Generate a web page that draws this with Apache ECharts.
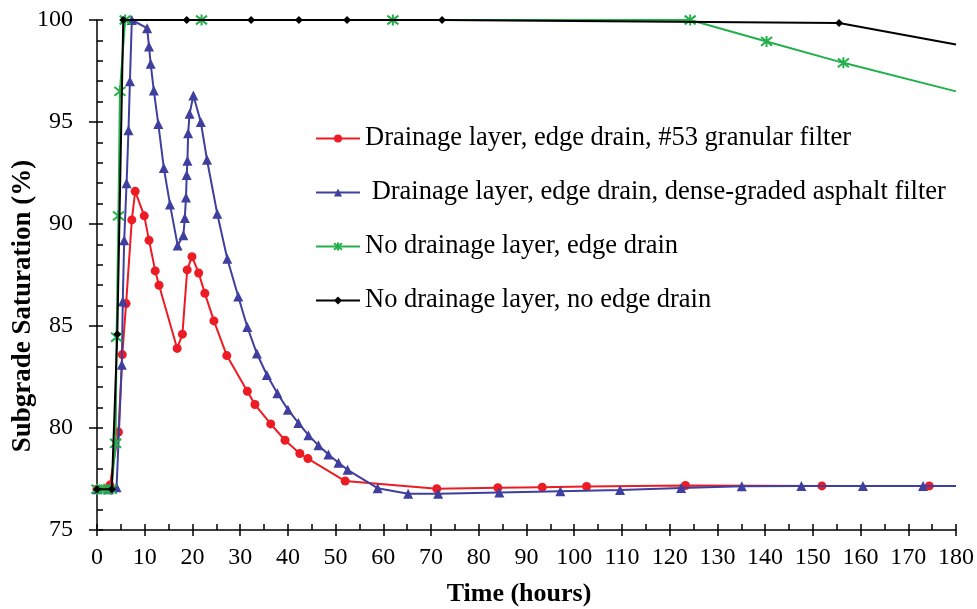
<!DOCTYPE html>
<html>
<head>
<meta charset="utf-8">
<script src="https://cdn.jsdelivr.net/npm/echarts@6/dist/echarts.min.js"></script>
<style>html,body{margin:0;padding:0;background:#fff}#c{width:977px;height:609px}</style>
</head>
<body>
<div id="c"></div>
<script>
// ---- data ----
const seriesNames = [
  'Drainage layer, edge drain, #53 granular filter',
  ' Drainage layer, edge drain, dense-graded asphalt filter',
  'No drainage layer, edge drain',
  'No drainage layer, no edge drain'
];
const redHours = [0, 2.7, 4.5, 5.3, 6.1, 7.3, 8.0, 9.9, 10.9, 12.2, 13.0, 16.8, 17.9, 18.9, 19.9, 21.3, 22.6, 24.5, 27.2, 31.5, 33.1, 36.4, 39.4, 42.5, 44.2, 52.0, 71.2, 84.0, 93.3, 102.6, 123.3, 151.9, 174.4];
const redSat   = [77.0, 77.2, 79.8, 83.6, 86.1, 90.2, 91.6, 90.4, 89.2, 87.7, 87.0, 83.9, 84.6, 87.75, 88.4, 87.6, 86.6, 85.25, 83.55, 81.8, 81.15, 80.2, 79.4, 78.75, 78.5, 77.4, 77.02, 77.07, 77.1, 77.13, 77.18, 77.16, 77.16];

const blueHours = [0, 2.5, 4.1, 5.2, 5.4, 5.7, 6.2, 6.6, 6.9, 7.3, 10.5, 10.9, 11.25, 11.9, 12.85, 14.0, 15.3, 16.9, 18.1, 18.4, 18.65, 18.8, 18.95, 19.1, 19.4, 20.2, 21.75, 23.05, 25.2, 27.3, 29.6, 31.5, 33.5, 35.6, 37.8, 40.0, 42.2, 44.3, 46.4, 48.5, 50.6, 52.5, 58.8, 65.2, 71.5, 84.3, 97.1, 109.6, 122.4, 135.1, 147.6, 160.5, 173.1, 180];
const blueSat   = [77.0, 77.0, 77.1, 83.1, 86.2, 89.2, 92.0, 94.6, 97.0, 100, 99.6, 98.7, 97.85, 96.55, 94.9, 92.75, 90.95, 88.95, 89.45, 90.3, 91.3, 92.4, 93.1, 94.45, 95.4, 96.3, 95.0, 93.15, 90.5, 88.3, 86.45, 84.95, 83.65, 82.6, 81.7, 80.9, 80.25, 79.65, 79.15, 78.7, 78.3, 77.95, 77.05, 76.78, 76.78, 76.84, 76.9, 76.96, 77.06, 77.15, 77.16, 77.16, 77.16, 77.16];

const greenHours = [0, 1.5, 3.0, 3.9, 4.1, 4.5, 4.8, 5.9, 21.9, 62.0, 124.3, 140.3, 156.4, 180];
const greenSat   = [77.0, 77.0, 77.0, 79.25, 84.45, 90.4, 96.5, 100, 100, 100, 100, 98.95, 97.9, 96.5];

const blackHours = [0, 3.1, 4.25, 5.5, 18.8, 32.3, 42.3, 52.4, 72.3, 155.5, 180];
const blackSat   = [77.0, 77.0, 84.6, 100, 100, 100, 100, 100, 100, 99.85, 98.8];

// series whose last point is only a line end (no marker)
const lineEndOnly = [false, true, true, true];

const xTicks = {min: 0, max: 180, major: 10, minor: 5};
const yTicks = {min: 75, max: 100, major: 5, minor: 1};

// ---- build ----
function pairs(h, v, noLastMarker) {
  return h.map((x, i) => {
    const item = {value: [x, v[i]]};
    if (noLastMarker && i === h.length - 1) item.symbol = 'none';
    return item;
  });
}
const FONT = '"Liberation Serif", "Times New Roman", serif';
const starPath = 'path://M0,-10L0,10M-8,-8L8,8M-8,8L8,-8';

const chart = echarts.init(document.getElementById('c'), null, {renderer: 'canvas'});
const axisLineStyle = {color: '#000', width: 1.5};
chart.setOption({
  animation: false,
  backgroundColor: '#fff',
  grid: {left: 97, right: 21, top: 20, bottom: 79, containLabel: false},
  xAxis: [
    {type: 'value', min: xTicks.min, max: xTicks.max, interval: xTicks.major,
     axisLine: {lineStyle: axisLineStyle},
     axisTick: {inside: false, length: 6, lineStyle: {color: '#000', width: 1.5}},
     axisLabel: {fontFamily: FONT, fontSize: 24, color: '#000', margin: 16},
     splitLine: {show: false}},
    {type: 'value', min: xTicks.min, max: xTicks.max, interval: xTicks.minor, position: 'bottom',
     axisLine: {show: false},
     axisTick: {inside: true, length: 6, lineStyle: {color: '#000', width: 1.5}},
     axisLabel: {show: false}, splitLine: {show: false}}
  ],
  yAxis: [
    {type: 'value', min: yTicks.min, max: yTicks.max, interval: yTicks.major,
     axisLine: {show: true, lineStyle: axisLineStyle},
     axisTick: {show: true, inside: false, length: 8, lineStyle: {color: '#000', width: 1.5}},
     axisLabel: {fontFamily: FONT, fontSize: 24, color: '#000', margin: 24},
     splitLine: {show: false}},
    {type: 'value', min: yTicks.min, max: yTicks.max, interval: yTicks.minor, position: 'left',
     axisLine: {show: false},
     axisTick: {show: true, inside: true, length: 6, lineStyle: {color: '#000', width: 1.5}},
     axisLabel: {show: false}, splitLine: {show: false}}
  ],
  legend: {
    orient: 'vertical', left: 310, top: 120,
    itemWidth: 44, itemHeight: 10, itemGap: 27,
    textStyle: {fontFamily: FONT, fontSize: 26.5, color: '#000', lineHeight: 26},
    data: seriesNames
  },
  graphic: [
    {type: 'text', style: {text: 'Time (hours)', font: 'bold 26px ' + FONT, fill: '#000', textAlign: 'center', textVerticalAlign: 'middle'}, position: [519, 594]},
    {type: 'text', style: {text: 'Subgrade Saturation (%)', font: 'bold 27px ' + FONT, fill: '#000', textAlign: 'center', textVerticalAlign: 'middle'}, position: [23, 306], rotation: Math.PI / 2}
  ],
  series: [
    {name: seriesNames[0], type: 'line', data: pairs(redHours, redSat, lineEndOnly[0]),
     symbol: 'circle', symbolSize: 9, color: '#ed1c24',
     lineStyle: {width: 2, color: '#ed1c24'}, itemStyle: {color: '#ed1c24'}, z: 2},
    {name: seriesNames[1], type: 'line', data: pairs(blueHours, blueSat, lineEndOnly[1]),
     symbol: 'triangle', symbolSize: 10, color: '#3f3f9f',
     lineStyle: {width: 2, color: '#3f3f9f'}, itemStyle: {color: '#3f3f9f'}, z: 3},
    {name: seriesNames[2], type: 'line', data: pairs(greenHours, greenSat, lineEndOnly[2]),
     symbol: starPath, symbolSize: 11, color: '#22b04b',
     lineStyle: {width: 2, color: '#22b04b'}, itemStyle: {color: '#22b04b', borderColor: '#22b04b', borderWidth: 2}, z: 4},
    {name: seriesNames[3], type: 'line', data: pairs(blackHours, blackSat, lineEndOnly[3]),
     symbol: 'diamond', symbolSize: 8, color: '#000',
     lineStyle: {width: 2, color: '#000'}, itemStyle: {color: '#000'}, z: 5}
  ]
});
</script>
</body>
</html>
